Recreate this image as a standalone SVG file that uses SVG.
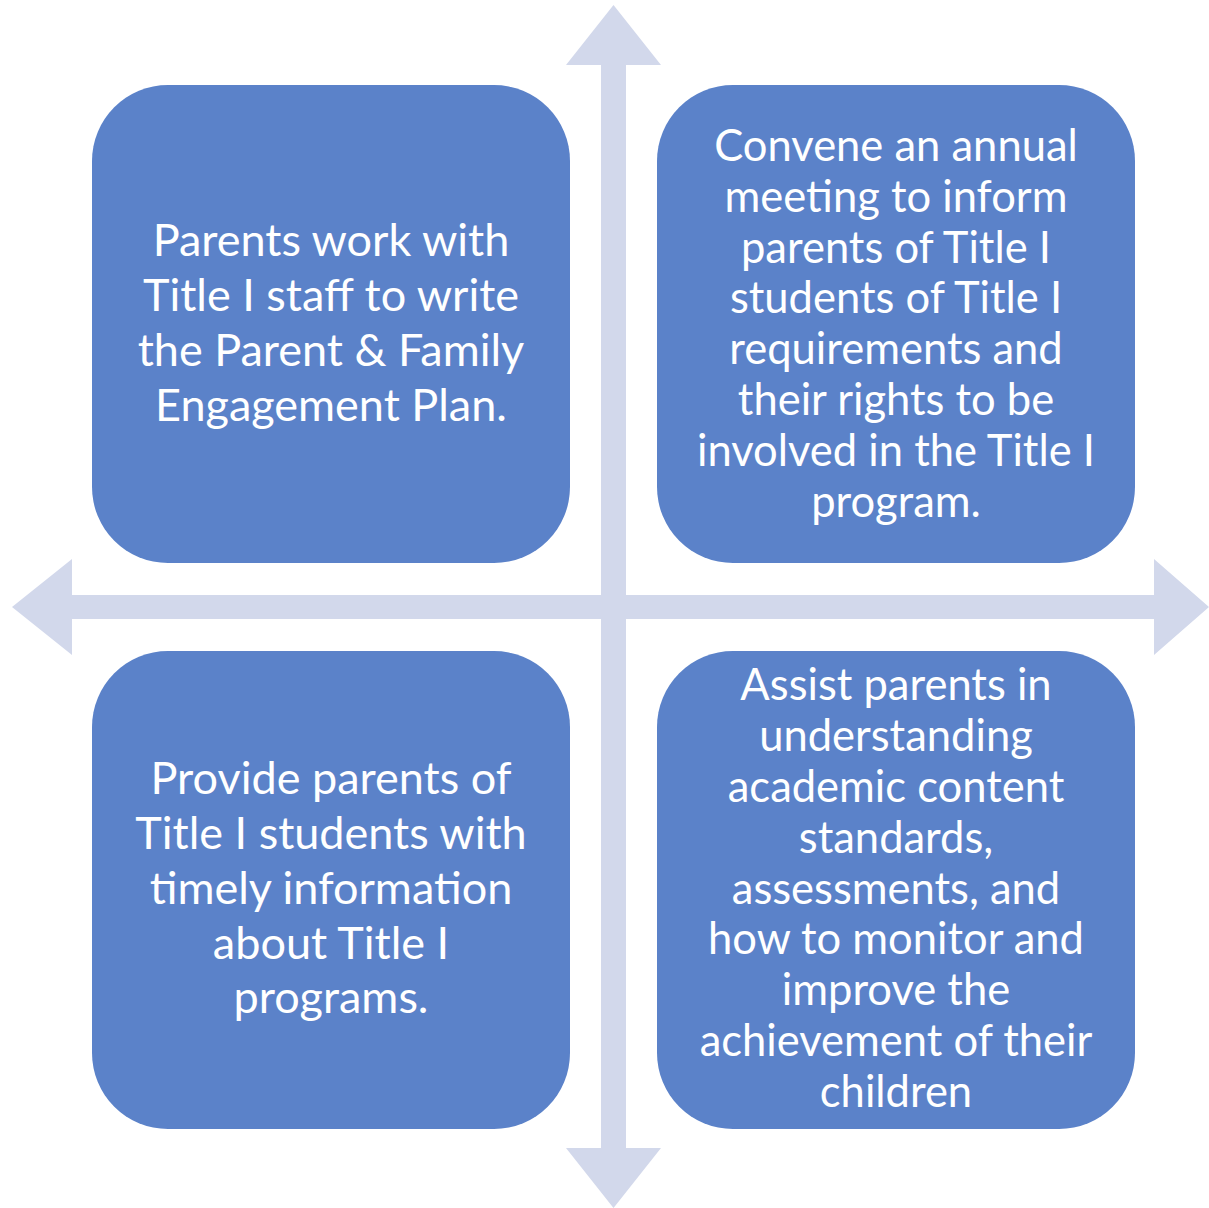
<svg xmlns="http://www.w3.org/2000/svg" width="1209" height="1208" viewBox="0 0 1209 1208">
<style>
.box{fill:#5B82C9}
.arr{fill:#D2D8EB}
.t{font-family:Lato,"Open Sans",sans-serif;fill:#FFFFFF;text-anchor:middle}
.big{font-size:45px}
.sm{font-size:43.5px}
</style>
<rect width="1209" height="1208" fill="#FFFFFF"/>
<g id="connectors">
<polygon class="arr" points="613.5,5 661,65 626,65 626,1148 661,1148 613.5,1208 566,1148 601,1148 601,65 566,65"/>
<polygon class="arr" points="12,607 72,559 72,595 1154,595 1154,559 1209,607 1154,655 1154,619 72,619 72,655"/>
</g>
<g id="node1">
<rect class="box" x="92" y="85" width="478" height="478" rx="76"/>
<text class="t big"><tspan x="331" y="256">Parents work with</tspan><tspan x="331" y="311">Title I staff to write</tspan><tspan x="331" y="366">the Parent &amp; Family</tspan><tspan x="331" y="421">Engagement Plan.</tspan></text>
</g>
<g id="node2">
<rect class="box" x="657" y="85" width="478" height="478" rx="76"/>
<text class="t sm"><tspan x="896" y="161">Convene an annual</tspan><tspan x="896" y="212">meeting to inform</tspan><tspan x="896" y="263">parents of Title I</tspan><tspan x="896" y="313">students of Title I</tspan><tspan x="896" y="364">requirements and</tspan><tspan x="896" y="415">their rights to be</tspan><tspan x="896" y="466">involved in the Title I</tspan><tspan x="896" y="517">program.</tspan></text>
</g>
<g id="node3">
<rect class="box" x="92" y="651" width="478" height="478" rx="76"/>
<text class="t big"><tspan x="331" y="794">Provide parents of</tspan><tspan x="331" y="849">Title I students with</tspan><tspan x="331" y="904">timely information</tspan><tspan x="331" y="959">about Title I</tspan><tspan x="331" y="1013">programs.</tspan></text>
</g>
<g id="node4">
<rect class="box" x="657" y="651" width="478" height="478" rx="76"/>
<text class="t sm"><tspan x="896" y="700">Assist parents in</tspan><tspan x="896" y="751">understanding</tspan><tspan x="896" y="802">academic content</tspan><tspan x="896" y="853">standards,</tspan><tspan x="896" y="904">assessments, and</tspan><tspan x="896" y="954">how to monitor and</tspan><tspan x="896" y="1005">improve the</tspan><tspan x="896" y="1056">achievement of their</tspan><tspan x="896" y="1107">children</tspan></text>
</g>
</svg>
